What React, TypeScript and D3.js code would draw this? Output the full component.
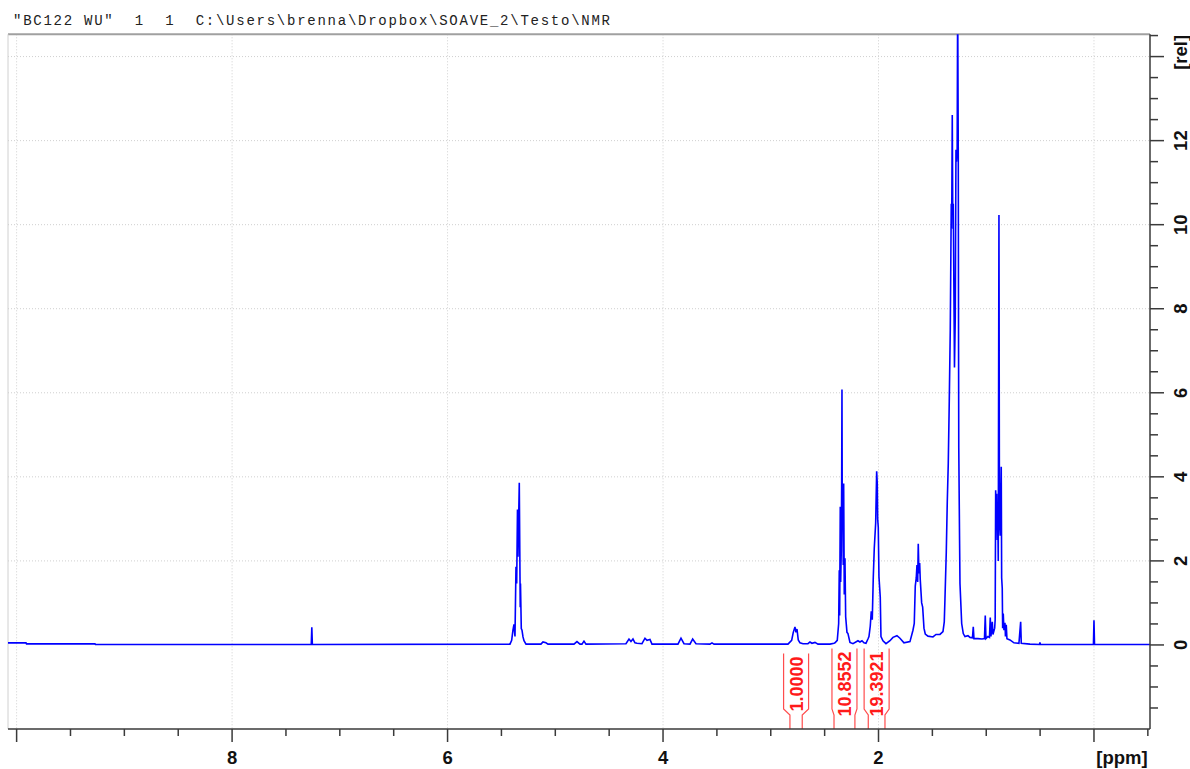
import React, { useEffect, useRef } from "react";
import * as d3 from "d3";

const title = "\"BC122 WU\"  1  1  C:\\Users\\brenna\\Dropbox\\SOAVE_2\\Testo\\NMR";

// spectrum vertices (ppm, relative intensity)
const ppm = [
  10.08, 9.913, 9.908, 9.2725, 9.268, 7.265, 7.26, 7.255,
  5.4206, 5.405, 5.393, 5.3835, 5.3742, 5.3649, 5.3584, 5.351, 5.3463, 5.3343,
  5.3277, 5.3254, 5.3231, 5.3157, 5.3091, 5.2998, 5.2905, 5.272,
  5.133, 5.1144, 5.0866, 5.068, 4.8266, 4.7988, 4.771, 4.7524, 4.7338, 4.7152,
  4.344, 4.3161, 4.2976, 4.279, 4.2605, 4.2419, 4.1955, 4.1676, 4.1491, 4.1212, 4.1027,
  3.8613, 3.8334, 3.8056, 3.7499, 3.7249, 3.6943, 3.5643, 3.5457, 3.5271,
  2.8404, 2.8061, 2.7912, 2.7754, 2.7661, 2.7568, 2.7448, 2.729, 2.7011,
  2.6547, 2.6361, 2.6176, 2.5897, 2.5619, 2.4505, 2.4134,
  2.4041, 2.3828, 2.3698, 2.3642, 2.3605, 2.3549, 2.3512, 2.3456, 2.3419, 2.3391,
  2.3363, 2.3326, 2.3271, 2.3234, 2.3178, 2.3113, 2.3048, 2.2993, 2.2928, 2.2835,
  2.2649, 2.2371, 2.1907, 2.1721, 2.1535, 2.135, 2.1164,
  2.095, 2.0885, 2.0764, 2.0672, 2.0579, 2.0486, 2.0393, 2.0263, 2.0171, 2.0115,
  2.0078, 2.0022, 1.9957, 1.9837, 1.9771, 1.9586, 1.9307,
  1.8936, 1.8658, 1.8287, 1.8008, 1.7637, 1.708,
  1.6802, 1.6681, 1.6588, 1.6495, 1.643, 1.6365, 1.631, 1.6245, 1.618, 1.6124,
  1.5994, 1.5901, 1.578, 1.5659, 1.5409, 1.4945, 1.4666, 1.4295, 1.4016,
  1.3896, 1.3831, 1.371, 1.3617, 1.3524, 1.3432, 1.3339, 1.3246, 1.3209, 1.3153,
  1.3107, 1.306, 1.2949, 1.2875, 1.281, 1.2763, 1.2698, 1.2652, 1.2596, 1.2568,
  1.255, 1.2476, 1.2438, 1.228, 1.2132, 1.1974, 1.1696, 1.151,
  1.1278, 1.1204, 1.1139, 1.0768, 1.0397, 1.0165, 1.0091, 1.0026, 0.984,
  0.9701, 0.9627, 0.9562, 0.9441, 0.9376, 0.9218, 0.9172,
  0.9125, 0.907, 0.9033, 0.8977, 0.894, 0.8884, 0.882, 0.8774, 0.87, 0.8607,
  0.857, 0.8514, 0.8477, 0.8421, 0.8356, 0.8263, 0.8217, 0.8143, 0.8078,
  0.78, 0.7429, 0.6965, 0.6805, 0.6749, 0.5943, 0.5061, 0.5015, 0.4968,
  0.005, 0.0, -0.005, -0.52,
];
const intensity = [
  0.05, 0.05, 0.025, 0.025, 0.01, 0.01, 0.42, 0.01,
  0.02, 0.11, 0.35, 0.49, 0.2, 1.86, 1.46, 3.22, 2.1, 3.86,
  1.62, 0.9, 1.46, 0.39, 0.35, 0.19, 0.1, 0.02,
  0.02, 0.07, 0.05, 0.02, 0.02, 0.08, 0.02, 0.02, 0.09, 0.02,
  0.03, 0.14, 0.08, 0.14, 0.05, 0.04, 0.03, 0.16, 0.11, 0.13, 0.02,
  0.02, 0.16, 0.03, 0.02, 0.14, 0.03, 0.02, 0.05, 0.02,
  0.02, 0.11, 0.3, 0.43, 0.3, 0.38, 0.12, 0.05, 0.03,
  0.03, 0.07, 0.04, 0.06, 0.02, 0.02, 0.04,
  0.05, 0.11, 0.51, 1.78, 0.7, 3.29, 1.5, 2.25, 3.84, 6.08,
  3.0, 3.84, 1.9, 3.84, 1.2, 2.06, 0.67, 0.5, 0.3, 0.27,
  0.06, 0.03, 0.1, 0.07, 0.1, 0.05, 0.04,
  0.16, 0.2, 0.45, 0.8, 0.6, 1.6, 2.3, 2.9, 4.13, 3.84,
  3.0, 2.8, 1.62, 1.14, 0.2, 0.1, 0.03,
  0.1, 0.18, 0.22, 0.16, 0.05, 0.08,
  0.35, 0.51, 1.4, 1.6, 1.9, 1.5, 2.41, 1.7, 1.95, 1.55,
  1.0, 0.9, 0.4, 0.26, 0.21, 0.19, 0.25, 0.25, 0.32,
  0.55, 1.1, 2.2, 3.4, 4.32, 5.8, 7.5, 10.5, 9.9, 12.61,
  10.23, 10.5, 6.6, 7.8, 11.78, 11.5, 11.8, 15.5, 11.7, 7.0,
  4.7, 2.5, 1.46, 0.51, 0.27, 0.2, 0.22, 0.18,
  0.17, 0.43, 0.15, 0.15, 0.14, 0.15, 0.7, 0.15, 0.2,
  0.18, 0.65, 0.2, 0.55, 0.25, 0.4, 0.6,
  3.68, 3.0, 3.6, 2.5, 3.4, 2.0, 10.23, 3.0, 2.6, 4.24,
  1.6, 1.35, 0.4, 0.75, 0.35, 0.53, 0.2, 0.48, 0.15,
  0.12, 0.05, 0.04, 0.55, 0.04, 0.02, 0.01, 0.06, 0.01,
  0.01, 0.59, 0.01, 0.01,
];

const integralLabels = ["1.0000", "10.8552", "19.3921"];
const integralFrom = [2.822, 2.413, 2.095];
const integralTo = [2.708, 2.219, 1.94];

const xLabels = [8, 6, 4, 2];
const yLabels = [0, 2, 4, 6, 8, 10, 12];

const NmrSpectrum = () => {
  const svgRef = useRef<SVGSVGElement>(null);

  useEffect(() => {
    const left = 8;
    const right = 1150;
    const top = 34.3;
    const bottom = 729;

    const svg = d3.select(svgRef.current);
    svg.selectAll("*").remove();

    const x = d3.scaleLinear().domain([10.08, -0.52]).range([left, right]);
    const y = d3.scaleLinear().domain([-2, 14.53]).range([bottom, top]);

    const axisFont = "'Liberation Sans', Arial, sans-serif";

    svg
      .append("text")
      .attr("x", 13)
      .attr("y", 25)
      .attr("textLength", 597)
      .attr("lengthAdjust", "spacing")
      .attr("font-family", "'Liberation Mono', 'Courier New', monospace")
      .attr("font-size", 14)
      .attr("fill", "#222")
      .style("white-space", "pre")
      .text(title);

    // grid
    const grid = svg.append("g").attr("stroke", "#cfcfcf").attr("stroke-width", 1).attr("stroke-dasharray", "1,2");
    [0, 2, 4, 6, 8, 10].forEach((v) => {
      grid.append("line").attr("x1", x(v)).attr("x2", x(v)).attr("y1", top).attr("y2", bottom);
    });
    d3.range(2, 15, 2).forEach((v) => {
      grid.append("line").attr("x1", left).attr("x2", right).attr("y1", y(v)).attr("y2", y(v));
    });

    // frame
    svg.append("line").attr("x1", left).attr("x2", right).attr("y1", top).attr("y2", top)
      .attr("stroke", "#a0a0a0").attr("stroke-width", 2);
    svg.append("line").attr("x1", left).attr("x2", left).attr("y1", top).attr("y2", bottom)
      .attr("stroke", "#d0d0d0").attr("stroke-width", 1);

    // spectrum
    svg.append("clipPath").attr("id", "plotclip").append("rect")
      .attr("x", left).attr("y", top).attr("width", right - left).attr("height", bottom - top);

    const points = d3.zip(ppm, intensity) as [number, number][];
    const line = d3.line<[number, number]>().x((d) => x(d[0])).y((d) => y(d[1]));
    svg.append("path")
      .datum(points)
      .attr("clip-path", "url(#plotclip)")
      .attr("d", line)
      .attr("fill", "none")
      .attr("stroke", "#0000ff")
      .attr("stroke-width", 1.6)
      .attr("stroke-linejoin", "miter");

    // integrals
    integralLabels.forEach((label, i) => {
      const x0 = x(integralFrom[i]);
      const x1 = x(integralTo[i]);
      const cx = (x0 + x1) / 2;
      const g = svg.append("g");
      const t = g.append("text")
        .attr("transform", `translate(${cx + 6.5},684) rotate(-90)`)
        .attr("text-anchor", "middle")
        .attr("font-family", axisFont)
        .attr("font-weight", "bold")
        .attr("font-size", 18)
        .attr("fill", "#ff1a1a")
        .text(label);
      const len = (t.node() as SVGTextElement).getComputedTextLength();
      const boxTop = 684 - len / 2 - 3;
      g.append("path")
        .attr("d", `M${x0},${bottom}V715L${cx - 12.5},709V${boxTop}M${x1},${bottom}V715L${cx + 12.5},709V${boxTop}`)
        .attr("fill", "none")
        .attr("stroke", "#ff4d4d")
        .attr("stroke-width", 1.2);
    });

    // axes
    const axisColor = "#3a3a3a";
    svg.append("line").attr("x1", left).attr("x2", right).attr("y1", bottom).attr("y2", bottom)
      .attr("stroke", axisColor).attr("stroke-width", 1.5);
    svg.append("line").attr("x1", right).attr("x2", right).attr("y1", top).attr("y2", bottom)
      .attr("stroke", axisColor).attr("stroke-width", 1.5);

    const isMajor = (v: number) => Math.abs(v % 2) < 1e-6;

    d3.range(-0.5, 10.01, 0.5).forEach((v) => {
      svg.append("line")
        .attr("x1", x(v)).attr("x2", x(v))
        .attr("y1", bottom).attr("y2", bottom + (isMajor(v) ? 13 : 7))
        .attr("stroke", axisColor).attr("stroke-width", 1.5);
    });
    d3.range(-1.5, 14.51, 0.5).forEach((v) => {
      svg.append("line")
        .attr("x1", right).attr("x2", right + (isMajor(v) ? 14 : 8))
        .attr("y1", y(v)).attr("y2", y(v))
        .attr("stroke", axisColor).attr("stroke-width", 1.5);
    });

    xLabels.forEach((v) => {
      svg.append("text")
        .attr("x", x(v)).attr("y", 764)
        .attr("text-anchor", "middle")
        .attr("font-family", axisFont).attr("font-weight", "bold").attr("font-size", 18.5)
        .attr("fill", "#111")
        .text(v);
    });
    svg.append("text")
      .attr("x", 1122).attr("y", 764)
      .attr("text-anchor", "middle")
      .attr("font-family", axisFont).attr("font-weight", "bold").attr("font-size", 18.5)
      .attr("fill", "#111")
      .text("[ppm]");

    yLabels.forEach((v) => {
      svg.append("text")
        .attr("transform", `translate(1186.5,${y(v)}) rotate(-90)`)
        .attr("text-anchor", "middle")
        .attr("font-family", axisFont).attr("font-weight", "bold").attr("font-size", 18.5)
        .attr("fill", "#111")
        .text(v);
    });
    svg.append("text")
      .attr("transform", `translate(1186.5,${y(14.1)}) rotate(-90)`)
      .attr("text-anchor", "middle")
      .attr("font-family", axisFont).attr("font-weight", "bold").attr("font-size", 18.5)
      .attr("fill", "#111")
      .text("[rel]");
  }, []);

  return (
    <div style={{ position: "absolute", left: 0, top: 0, background: "#fff" }}>
      <svg ref={svgRef} width={1190} height={769}></svg>
    </div>
  );
};

export default function App() {
  return <NmrSpectrum />;
}
